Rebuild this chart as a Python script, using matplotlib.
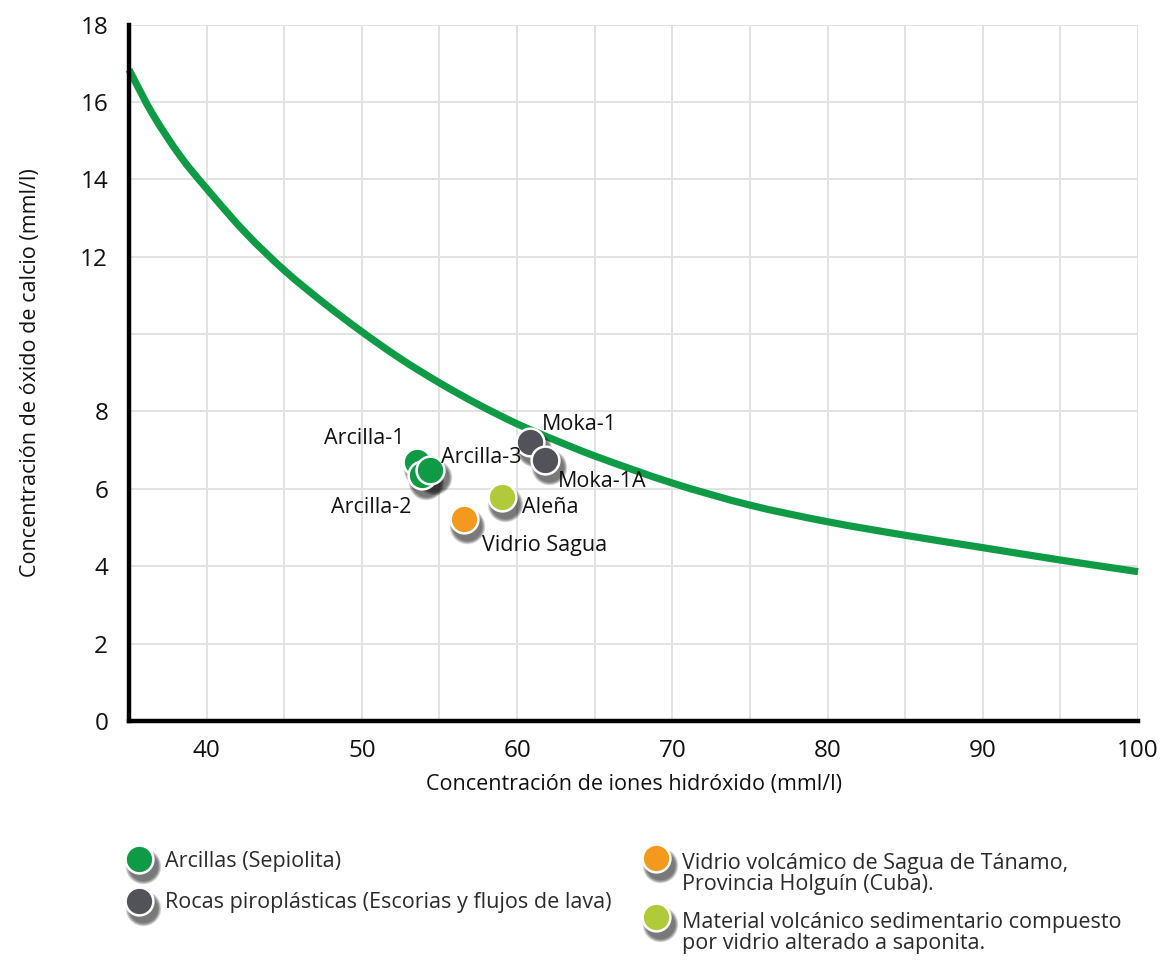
import matplotlib
matplotlib.use("Agg")
import matplotlib.pyplot as plt
import matplotlib.transforms as mtransforms
from matplotlib.path import Path
from matplotlib.patches import PathPatch

plt.rcParams["font.family"] = ["Open Sans", "DejaVu Sans"]

# Frattini reference curve (CaO solubility vs OH- concentration)
curve_x = [35, 36.5, 38.3, 40, 42.5, 45, 47.5, 50, 52.5, 55, 57.5, 60, 62.5,
           65, 70, 75, 80, 85, 90, 95, 100]
curve_y = [16.83, 15.70, 14.60, 13.76, 12.62, 11.65, 10.82, 10.06, 9.36, 8.74,
           8.18, 7.68, 7.25, 6.85, 6.15, 5.58, 5.15, 4.80, 4.48, 4.16, 3.86]

# Samples
sample_names = ["Arcilla-1", "Arcilla-2", "Arcilla-3", "Moka-1", "Moka-1A",
                "Aleña", "Vidrio Sagua"]
sample_oh = [53.55, 53.9, 54.4, 60.85, 61.8, 59.0, 56.55]
sample_cao = [6.70, 6.35, 6.49, 7.22, 6.74, 5.80, 5.21]
sample_group = [0, 0, 0, 1, 1, 3, 2]

group_colors = ["#0f9a45", "#525359", "#f39a1e", "#b1ca3a"]
group_labels = [
    "Arcillas (Sepiolita)",
    "Rocas piroplásticas (Escorias y flujos de lava)",
    "Vidrio volcámico de Sagua de Tánamo,\nProvincia Holguín (Cuba).",
    "Material volcánico sedimentario compuesto\npor vidrio alterado a saponita.",
]

x_ticks = [40, 50, 60, 70, 80, 90, 100]
y_ticks = [0, 2, 4, 6, 8, 12, 14, 16, 18]

W, H = 1162, 960
fig = plt.figure(figsize=(W / 100, H / 100), dpi=100)
ax = fig.add_axes([129 / W, 1 - 721 / H, (1138 - 129) / W, (721 - 24.5) / H])

ax.set_xlim(35, 100)
ax.set_ylim(0, 18)
ax.set_xticks(range(40, 101, 5))
ax.set_yticks(range(0, 19, 2))
ax.set_xticklabels([str(t) if t in x_ticks else "" for t in range(40, 101, 5)])
ax.set_yticklabels([str(t) if t in y_ticks else "" for t in range(0, 19, 2)])
ax.grid(True, color="#e2e2e2", linewidth=1.4)
ax.set_axisbelow(True)
ax.tick_params(length=0, labelsize=17.5, colors="#111111")
ax.tick_params(axis="x", pad=13)
ax.tick_params(axis="y", pad=15)
for side in ("top", "right"):
    ax.spines[side].set_visible(False)
for side in ("left", "bottom"):
    ax.spines[side].set_linewidth(3.2)
    ax.spines[side].set_color("#000000")
    ax.spines[side].set_zorder(6)

ax.set_xlabel("Concentración de iones hidróxido (mml/l)", fontsize=15.5,
              color="#111111", labelpad=8)
ax.set_ylabel("Concentración de óxido de calcio (mml/l)", fontsize=15.5,
              color="#111111", labelpad=28)


def smooth_path(xs, ys):
    """Cubic Hermite path through the given points (tangents from neighbours)."""
    n = len(xs)
    m = []
    for i in range(n):
        if i == 0:
            m.append((ys[1] - ys[0]) / (xs[1] - xs[0]))
        elif i == n - 1:
            m.append((ys[-1] - ys[-2]) / (xs[-1] - xs[-2]))
        else:
            m.append((ys[i + 1] - ys[i - 1]) / (xs[i + 1] - xs[i - 1]))
    verts = [(xs[0], ys[0])]
    codes = [Path.MOVETO]
    for i in range(n - 1):
        h = xs[i + 1] - xs[i]
        verts += [(xs[i] + h / 3, ys[i] + m[i] * h / 3),
                  (xs[i + 1] - h / 3, ys[i + 1] - m[i + 1] * h / 3),
                  (xs[i + 1], ys[i + 1])]
        codes += [Path.CURVE4] * 3
    return Path(verts, codes)


ax.add_patch(PathPatch(smooth_path(curve_x, curve_y), facecolor="none",
                       edgecolor="#0f9a45", linewidth=5.2, capstyle="butt",
                       zorder=3, clip_on=False))


def shadowed_dots(axis, xs, ys, color, size, z):
    base = axis.transData
    for k in range(8):
        off = mtransforms.offset_copy(base, fig=fig, x=2.8, y=-5, units="points")
        axis.scatter(xs, ys, s=size * (1.65 - 0.08 * k), color="black",
                     alpha=0.085, linewidths=0, transform=off, zorder=z,
                     clip_on=False)
    axis.scatter(xs, ys, s=size, color=color, edgecolors="white",
                 linewidths=1.8, zorder=z + 0.5, clip_on=False)


order = [0, 2, 1, 3, 4, 5, 6]
for i in order:
    shadowed_dots(ax, [sample_oh[i]], [sample_cao[i]],
                  group_colors[sample_group[i]], 400, 4 + 0.1 * i)

# sample labels (offsets in points from each dot)
label_offsets = {
    "Arcilla-1": (-9, 17, "right"),
    "Arcilla-2": (-8, -23, "right"),
    "Arcilla-3": (8, 9, "left"),
    "Moka-1": (8, 12, "left"),
    "Moka-1A": (9, -15, "left"),
    "Aleña": (15, -8, "left"),
    "Vidrio Sagua": (13, -19, "left"),
}
for name, x, y in zip(sample_names, sample_oh, sample_cao):
    dx, dy, ha = label_offsets[name]
    ax.annotate(name, (x, y), xytext=(dx, dy), textcoords="offset points",
                ha=ha, va="center", fontsize=15.5, color="#111111", zorder=8)

# legend drawn on a full-figure pixel canvas
lg = fig.add_axes([0, 0, 1, 1], zorder=-1)
lg.set_xlim(0, W)
lg.set_ylim(H, 0)
lg.axis("off")
legend_pos = [(139, 859), (139, 901), (656, 858), (656, 917)]
text_drop = [-8, -9, -5, -5]
for (px, py), col, lab, dy in zip(legend_pos, group_colors, group_labels,
                                  text_drop):
    shadowed_dots(lg, [px], [py], col, 400, 2)
    lg.text(px + 26, py + dy, lab, ha="left", va="top", fontsize=15.5,
            color="#2b2b2b", linespacing=1.02)

fig.savefig("out.png", dpi=100, facecolor="white")
